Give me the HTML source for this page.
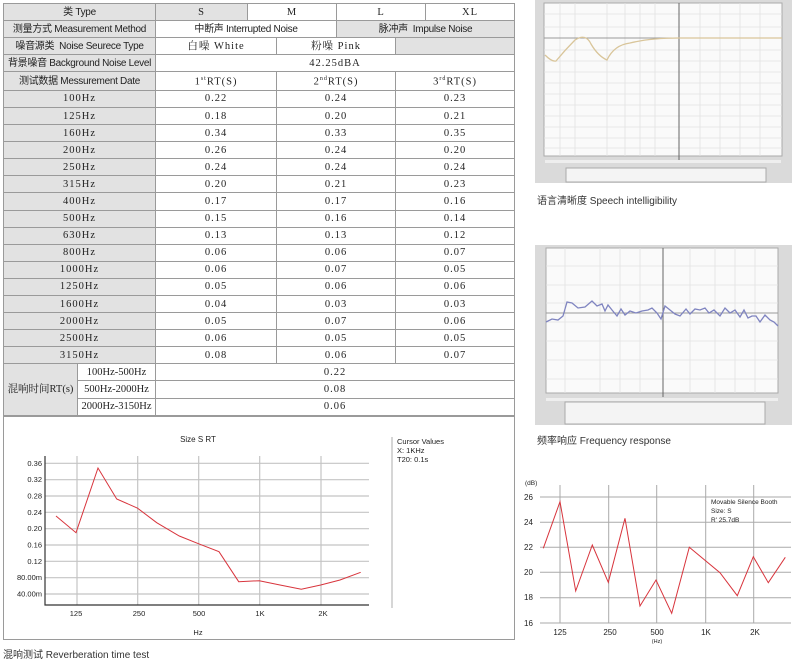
<!DOCTYPE html>
<html><head><meta charset="utf-8"><style>
body{margin:0;width:794px;height:669px;background:#fff;position:relative;overflow:hidden;font-family:"Liberation Sans","Noto Sans CJK SC",sans-serif;}
table{position:absolute;left:3px;top:3px;border-collapse:collapse;table-layout:fixed;width:512px;}
td{border:1px solid #9a9a9a;height:16.1px;padding:0;text-align:center;font-size:10.5px;line-height:15px;white-space:nowrap;overflow:hidden;color:#222;}
.g{background:#e2e2e2;}
.n{font-family:"Liberation Serif","Noto Serif CJK SC",serif;letter-spacing:1px;}
.l{font-family:"Liberation Sans","Noto Sans CJK SC",sans-serif;font-size:10px;letter-spacing:-0.3px;}
.abs{position:absolute;font-size:11px;color:#333;}
</style></head><body>
<table>
<colgroup><col style="width:74px"><col style="width:78px"><col style="width:92px"><col style="width:29px"><col style="width:60px"><col style="width:59px"><col style="width:30px"><col style="width:89px"></colgroup>
<tr><td colspan="2" class="g l">类 Type</td><td class="g n">S</td><td colspan="2" class="n">M</td><td colspan="2" class="n">L</td><td class="n">XL</td></tr>
<tr><td colspan="2" class="g l">测量方式 Measurement Method</td><td colspan="3" class="l">中断声 Interrupted Noise</td><td colspan="3" class="g l">脉冲声 &nbsp;Impulse Noise</td></tr>
<tr><td colspan="2" class="g l">噪音源类 &nbsp;Noise Seurece Type</td><td colspan="2" class="n">白噪 White</td><td colspan="2" class="n">粉噪 Pink</td><td colspan="2" class="g"></td></tr>
<tr><td colspan="2" class="g l">背景噪音 Background Noise Level</td><td colspan="6" class="n">42.25dBA</td></tr>
<tr><td colspan="2" class="g l">测试数据 Messurement Date</td><td colspan="2" class="n">1<sup style="font-size:6px">st</sup>RT(S)</td><td colspan="2" class="n">2<sup style="font-size:6px">nd</sup>RT(S)</td><td colspan="2" class="n">3<sup style="font-size:6px">rd</sup>RT(S)</td></tr>
<tr><td colspan="2" class="g n">100Hz</td><td colspan="2" class="n">0.22</td><td colspan="2" class="n">0.24</td><td colspan="2" class="n">0.23</td></tr>
<tr><td colspan="2" class="g n">125Hz</td><td colspan="2" class="n">0.18</td><td colspan="2" class="n">0.20</td><td colspan="2" class="n">0.21</td></tr>
<tr><td colspan="2" class="g n">160Hz</td><td colspan="2" class="n">0.34</td><td colspan="2" class="n">0.33</td><td colspan="2" class="n">0.35</td></tr>
<tr><td colspan="2" class="g n">200Hz</td><td colspan="2" class="n">0.26</td><td colspan="2" class="n">0.24</td><td colspan="2" class="n">0.20</td></tr>
<tr><td colspan="2" class="g n">250Hz</td><td colspan="2" class="n">0.24</td><td colspan="2" class="n">0.24</td><td colspan="2" class="n">0.24</td></tr>
<tr><td colspan="2" class="g n">315Hz</td><td colspan="2" class="n">0.20</td><td colspan="2" class="n">0.21</td><td colspan="2" class="n">0.23</td></tr>
<tr><td colspan="2" class="g n">400Hz</td><td colspan="2" class="n">0.17</td><td colspan="2" class="n">0.17</td><td colspan="2" class="n">0.16</td></tr>
<tr><td colspan="2" class="g n">500Hz</td><td colspan="2" class="n">0.15</td><td colspan="2" class="n">0.16</td><td colspan="2" class="n">0.14</td></tr>
<tr><td colspan="2" class="g n">630Hz</td><td colspan="2" class="n">0.13</td><td colspan="2" class="n">0.13</td><td colspan="2" class="n">0.12</td></tr>
<tr><td colspan="2" class="g n">800Hz</td><td colspan="2" class="n">0.06</td><td colspan="2" class="n">0.06</td><td colspan="2" class="n">0.07</td></tr>
<tr><td colspan="2" class="g n">1000Hz</td><td colspan="2" class="n">0.06</td><td colspan="2" class="n">0.07</td><td colspan="2" class="n">0.05</td></tr>
<tr><td colspan="2" class="g n">1250Hz</td><td colspan="2" class="n">0.05</td><td colspan="2" class="n">0.06</td><td colspan="2" class="n">0.06</td></tr>
<tr><td colspan="2" class="g n">1600Hz</td><td colspan="2" class="n">0.04</td><td colspan="2" class="n">0.03</td><td colspan="2" class="n">0.03</td></tr>
<tr><td colspan="2" class="g n">2000Hz</td><td colspan="2" class="n">0.05</td><td colspan="2" class="n">0.07</td><td colspan="2" class="n">0.06</td></tr>
<tr><td colspan="2" class="g n">2500Hz</td><td colspan="2" class="n">0.06</td><td colspan="2" class="n">0.05</td><td colspan="2" class="n">0.05</td></tr>
<tr><td colspan="2" class="g n">3150Hz</td><td colspan="2" class="n">0.08</td><td colspan="2" class="n">0.06</td><td colspan="2" class="n">0.07</td></tr>
<tr><td rowspan="3" class="g n" style="letter-spacing:0">混响时间RT(s)</td><td class="n" style="letter-spacing:0">100Hz-500Hz</td><td colspan="6" class="n">0.22</td></tr>
<tr><td class="n" style="letter-spacing:0">500Hz-2000Hz</td><td colspan="6" class="n">0.08</td></tr>
<tr><td class="n" style="letter-spacing:0">2000Hz-3150Hz</td><td colspan="6" class="n">0.06</td></tr>
</table>

<svg style="position:absolute;left:0;top:0" width="794" height="669" font-family="Liberation Sans, sans-serif">
<rect x="3.5" y="416.5" width="511" height="223" fill="none" stroke="#9a9a9a"/>
<text x="198" y="442" font-size="8" text-anchor="middle" fill="#222">Size S RT</text>
<g stroke="#c4c4c4" stroke-width="1.2">
<line x1="45" y1="463.3" x2="369" y2="463.3"/><line x1="45" y1="479.7" x2="369" y2="479.7"/><line x1="45" y1="496" x2="369" y2="496"/><line x1="45" y1="512.3" x2="369" y2="512.3"/><line x1="45" y1="528.7" x2="369" y2="528.7"/><line x1="45" y1="545" x2="369" y2="545"/><line x1="45" y1="561.3" x2="369" y2="561.3"/><line x1="45" y1="577.7" x2="369" y2="577.7"/><line x1="45" y1="594" x2="369" y2="594"/>
<line x1="77" y1="456" x2="77" y2="605"/><line x1="137.7" y1="456" x2="137.7" y2="605"/><line x1="198.7" y1="456" x2="198.7" y2="605"/><line x1="259.7" y1="456" x2="259.7" y2="605"/><line x1="321" y1="456" x2="321" y2="605"/>
</g>
<polyline fill="none" stroke="#333" stroke-width="1.2" points="45,456 45,605 369,605"/>
<g font-size="7.5" fill="#222" text-anchor="end">
<text x="42" y="466">0.36</text><text x="42" y="482">0.32</text><text x="42" y="498.5">0.28</text><text x="42" y="515">0.24</text><text x="42" y="531">0.20</text><text x="42" y="547.5">0.16</text><text x="42" y="564">0.12</text><text x="42" y="580">80.00m</text><text x="42" y="596.5">40.00m</text>
</g>
<g font-size="7.5" fill="#222" text-anchor="middle">
<text x="76" y="616">125</text><text x="139" y="616">250</text><text x="199" y="616">500</text><text x="260" y="616">1K</text><text x="323" y="616">2K</text><text x="198" y="635">Hz</text>
</g>
<polyline fill="none" stroke="#d8343c" stroke-width="1" points="56,516 76,532.7 98,468 116.7,499 137.3,508 156.7,522.7 179.3,536 200,544.3 219,551.7 238.7,581.7 259.3,580.7 280,585 301.3,589.3 320.7,585 340,580 360.7,572.3"/>
<line x1="392" y1="437" x2="392" y2="608" stroke="#bbb" stroke-width="1.2"/>
<g font-size="7.5" fill="#222"><text x="397" y="444">Cursor Values</text><text x="397" y="453">X: 1KHz</text><text x="397" y="462">T20: 0.1s</text></g>
<text x="3" y="658" font-size="10" fill="#333" font-family="Liberation Sans, Noto Sans CJK SC, sans-serif">混响测试 Reverberation time test</text>

<!-- speech intelligibility -->
<rect x="535" y="0" width="257" height="183" fill="#dadada"/>
<rect x="544" y="3" width="238" height="153" fill="#fafafa" stroke="#aaa"/>
<g stroke="#e2e2e2" stroke-width="0.8">
<line x1="544" y1="14" x2="782" y2="14"/><line x1="544" y1="27" x2="782" y2="27"/><line x1="544" y1="50" x2="782" y2="50"/><line x1="544" y1="61" x2="782" y2="61"/><line x1="544" y1="72" x2="782" y2="72"/><line x1="544" y1="83" x2="782" y2="83"/><line x1="544" y1="94" x2="782" y2="94"/><line x1="544" y1="105" x2="782" y2="105"/><line x1="544" y1="116" x2="782" y2="116"/><line x1="544" y1="127" x2="782" y2="127"/><line x1="544" y1="138" x2="782" y2="138"/><line x1="544" y1="148" x2="782" y2="148"/>
<line x1="560" y1="3" x2="560" y2="156"/><line x1="575" y1="3" x2="575" y2="156"/><line x1="607" y1="3" x2="607" y2="156"/><line x1="625" y1="3" x2="625" y2="156"/><line x1="640" y1="3" x2="640" y2="156"/><line x1="655" y1="3" x2="655" y2="156"/><line x1="700" y1="3" x2="700" y2="156"/><line x1="720" y1="3" x2="720" y2="156"/><line x1="740" y1="3" x2="740" y2="156"/><line x1="760" y1="3" x2="760" y2="156"/>
</g>
<line x1="544" y1="38" x2="782" y2="38" stroke="#999"/>
<line x1="679" y1="3" x2="679" y2="160" stroke="#666"/>
<path d="M545,55 Q552,62 556,61 Q565,50 575,40 Q586,33 591,44 Q598,56 607,60 Q614,45 630,43 Q650,38 679,38 L782,38" fill="none" stroke="#d9c59a" stroke-width="1.3"/>
<rect x="545" y="160" width="236" height="3" fill="#eee"/>
<rect x="566" y="168" width="200" height="14" fill="#f4f4f4" stroke="#aaa"/>
<text x="537" y="204" font-size="10" fill="#333" font-family="Liberation Sans, Noto Sans CJK SC, sans-serif">语言清晰度 Speech intelligibility</text>

<!-- frequency response -->
<rect x="535" y="245" width="257" height="180" fill="#dadada"/>
<rect x="546" y="248" width="232" height="145" fill="#fafafa" stroke="#aaa"/>
<g stroke="#e2e2e2" stroke-width="0.8">
<line x1="546" y1="266" x2="778" y2="266"/><line x1="546" y1="285" x2="778" y2="285"/><line x1="546" y1="303" x2="778" y2="303"/><line x1="546" y1="322" x2="778" y2="322"/><line x1="546" y1="341" x2="778" y2="341"/><line x1="546" y1="360" x2="778" y2="360"/><line x1="546" y1="379" x2="778" y2="379"/>
<line x1="565" y1="248" x2="565" y2="393"/><line x1="600" y1="248" x2="600" y2="393"/><line x1="620" y1="248" x2="620" y2="393"/><line x1="640" y1="248" x2="640" y2="393"/><line x1="690" y1="248" x2="690" y2="393"/><line x1="715" y1="248" x2="715" y2="393"/><line x1="735" y1="248" x2="735" y2="393"/><line x1="755" y1="248" x2="755" y2="393"/>
</g>
<line x1="546" y1="313" x2="778" y2="313" stroke="#999"/>
<line x1="663" y1="248" x2="663" y2="397" stroke="#666"/>
<path d="M546,322 L552,319 L558,320 L563,316 L567,302 L572,303 L578,308 L585,307 L592,301 L597,306 L602,304 L605,311 L608,305 L612,310 L617,316 L621,309 L625,315 L630,311 L636,313 L642,311 L648,310 L652,308 L657,313 L661,319 L665,306 L670,310 L675,314 L680,316 L686,309 L690,314 L695,309 L700,310 L705,308 L709,313 L714,310 L720,316 L725,308 L730,313 L735,310 L740,317 L744,310 L748,318 L752,316 L756,316 L760,322 L765,315 L770,320 L774,322 L778,326" fill="none" stroke="#7f84c0" stroke-width="1.3"/>
<rect x="546" y="398" width="232" height="3" fill="#eee"/>
<rect x="565" y="402" width="200" height="22" fill="#f4f4f4" stroke="#aaa"/>
<text x="537" y="444" font-size="10" fill="#333" font-family="Liberation Sans, Noto Sans CJK SC, sans-serif">频率响应 Frequency response</text>

<!-- sound insulation -->
<g stroke="#aaa" stroke-width="1">
<line x1="540" y1="497" x2="791" y2="497"/><line x1="540" y1="522.3" x2="791" y2="522.3"/><line x1="540" y1="547.3" x2="791" y2="547.3"/><line x1="540" y1="572.3" x2="791" y2="572.3"/><line x1="540" y1="597.7" x2="791" y2="597.7"/><line x1="540" y1="623" x2="791" y2="623"/>
<line x1="560" y1="485" x2="560" y2="623"/><line x1="608.7" y1="485" x2="608.7" y2="623"/><line x1="656.7" y1="485" x2="656.7" y2="623"/><line x1="705.7" y1="485" x2="705.7" y2="623"/><line x1="753.7" y1="485" x2="753.7" y2="623"/>
</g>
<g font-size="8" fill="#222">
<text x="525" y="485" font-size="6.5">(dB)</text>
<text x="524" y="500">26</text><text x="524" y="525">24</text><text x="524" y="550">22</text><text x="524" y="575">20</text><text x="524" y="600">18</text><text x="524" y="626">16</text>
<g text-anchor="middle"><text x="560" y="635">125</text><text x="610" y="635">250</text><text x="657" y="635">500</text><text x="706" y="635">1K</text><text x="755" y="635">2K</text><text x="657" y="643" font-size="5.5">(Hz)</text></g>
<g font-size="6.5"><text x="711" y="504">Movable Silence Booth</text><text x="711" y="513">Size: S</text><text x="711" y="522">R' 25.7dB</text></g>
</g>
<polyline fill="none" stroke="#d8343c" stroke-width="1" points="543.3,548.3 560,501.7 575.7,591 592.3,545 608.3,582.3 625,518.3 640,606 656,580 671.7,613.3 689.3,547.3 720,572.7 737.3,595.7 753.3,556.7 768.3,582.7 785.3,557.3"/>
</svg>
</body></html>
